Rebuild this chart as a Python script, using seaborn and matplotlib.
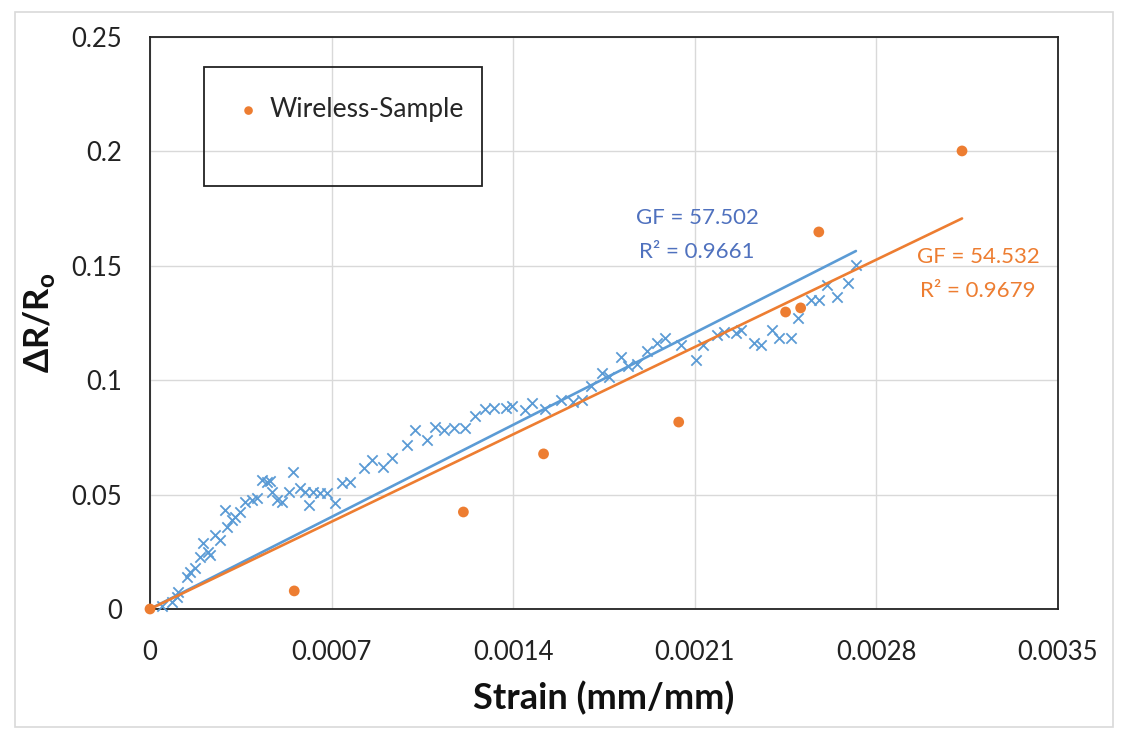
import numpy as np
import pandas as pd
import matplotlib
matplotlib.use("Agg")
import matplotlib.pyplot as plt
from matplotlib.patches import Rectangle
import seaborn as sns

# ---------------- data ----------------
blue_strain = [0.0000463, 0.0000837, 0.000103, 0.000109, 0.000142, 0.000154, 0.000174,
               0.000193, 0.000206, 0.000225, 0.000232, 0.000251, 0.000270, 0.000289,
               0.000296, 0.000315, 0.000328, 0.000347, 0.000367, 0.000392, 0.000412,
               0.000431, 0.000450, 0.000463, 0.000470, 0.000489, 0.000508, 0.000534,
               0.000553, 0.000579, 0.000611, 0.000598, 0.000630, 0.000656, 0.000682,
               0.000714, 0.000740, 0.000772, 0.000823, 0.000856, 0.000900, 0.000933,
               0.000991, 0.001023, 0.001068, 0.001100, 0.001132, 0.001170, 0.001216,
               0.001254, 0.001293, 0.001325, 0.001374, 0.001396, 0.001447, 0.001474,
               0.001524, 0.001586, 0.001629, 0.001666, 0.001698, 0.001744, 0.001771,
               0.001814, 0.001841, 0.001878, 0.001917, 0.001955, 0.001987, 0.002045,
               0.002103, 0.002130, 0.002184, 0.002212, 0.002258, 0.002277, 0.002328,
               0.002354, 0.002399, 0.002425, 0.002470, 0.002496, 0.002547, 0.002579,
               0.002611, 0.002650, 0.002689, 0.002721]
blue_dr = [0.0013, 0.0032, 0.0054, 0.0076, 0.0141, 0.0163, 0.0178,
           0.0229, 0.0287, 0.0250, 0.0236, 0.0323, 0.0302, 0.0433,
           0.0360, 0.0389, 0.0403, 0.0425, 0.0469, 0.0476, 0.0484,
           0.0564, 0.0556, 0.0560, 0.0513, 0.0476, 0.0469, 0.0513,
           0.0600, 0.0528, 0.0455, 0.0513, 0.0513, 0.0506, 0.0506,
           0.0462, 0.0549, 0.0556, 0.0615, 0.0651, 0.0622, 0.0659,
           0.0717, 0.0782, 0.0739, 0.0797, 0.0782, 0.0790, 0.0790,
           0.0844, 0.0874, 0.0877, 0.0877, 0.0887, 0.0868, 0.0899,
           0.0874, 0.0914, 0.0906, 0.0914, 0.0975, 0.1030, 0.1015,
           0.1103, 0.1062, 0.1071, 0.1128, 0.1161, 0.1183, 0.1154,
           0.1088, 0.1154, 0.1198, 0.1212, 0.1205, 0.1219, 0.1161,
           0.1154, 0.1219, 0.1183, 0.1183, 0.1271, 0.1351, 0.1351,
           0.1416, 0.1365, 0.1424, 0.1504]

wireless_strain = [0.0, 0.000556, 0.001208, 0.001517, 0.002038, 0.002450, 0.002508, 0.002578, 0.003130]
wireless_dr = [0.0, 0.0079, 0.0424, 0.0678, 0.0817, 0.1298, 0.1316, 0.1648, 0.2002]

gf_blue, r2_blue = 57.502, 0.9661
gf_orange, r2_orange = 54.532, 0.9679

x_ticks = [0, 0.0007, 0.0014, 0.0021, 0.0028, 0.0035]
x_tick_labels = ["0", "0.0007", "0.0014", "0.0021", "0.0028", "0.0035"]
y_ticks = [0, 0.05, 0.1, 0.15, 0.2, 0.25]
y_tick_labels = ["0", "0.05", "0.1", "0.15", "0.2", "0.25"]

legend_label = "Wireless-Sample"

# ---------------- style ----------------
sns.set_theme(style="white")
plt.rcParams["font.family"] = ["Lato", "DejaVu Sans"]

BLUE = "#5B9BD5"
BLUE_TXT = "#4F71BE"
ORANGE = "#ED7D31"

W, H = 1121, 733
fig = plt.figure(figsize=(W / 100, H / 100), dpi=100)
fig.patch.set_facecolor("white")
fig.patches.append(Rectangle((15 / W, 1 - 727 / H), (1113 - 15) / W, (727 - 12) / H,
                             transform=fig.transFigure, fill=False,
                             edgecolor="#d9d9d9", linewidth=1.2))

ax = fig.add_axes([150 / W, 1 - 609 / H, (1058 - 150) / W, (609 - 37) / H])

blue_df = pd.DataFrame({"strain": blue_strain, "dr": blue_dr})
wl_df = pd.DataFrame({"strain": wireless_strain, "dr": wireless_dr})

# trendlines (through origin, slope = GF)
bt = pd.DataFrame({"strain": [0.0, max(blue_strain)]})
bt["dr"] = gf_blue * bt["strain"]
ot = pd.DataFrame({"strain": [0.0, max(wireless_strain)]})
ot["dr"] = gf_orange * ot["strain"]

sns.scatterplot(data=blue_df, x="strain", y="dr", marker="x", color=BLUE, s=55,
                linewidth=1.3, ax=ax, zorder=3, legend=False, clip_on=False)
sns.lineplot(data=bt, x="strain", y="dr", color=BLUE, linewidth=1.9, ax=ax, zorder=4)
sns.lineplot(data=ot, x="strain", y="dr", color=ORANGE, linewidth=1.9, ax=ax, zorder=4)
sns.scatterplot(data=wl_df, x="strain", y="dr", color=ORANGE, s=60, edgecolor="none",
                ax=ax, zorder=5, label=legend_label, clip_on=False)

ax.set_xlim(0, 0.0035)
ax.set_ylim(0, 0.25)
ax.set_xticks(x_ticks)
ax.set_xticklabels(x_tick_labels)
ax.set_yticks(y_ticks)
ax.set_yticklabels(y_tick_labels)
ax.tick_params(axis="both", length=0, labelsize=18.5, colors="#222222")
ax.tick_params(axis="x", pad=22)
ax.tick_params(axis="y", pad=20)
ax.grid(True, color="#d9d9d9", linewidth=1.0)
ax.set_axisbelow(True)
for sp in ax.spines.values():
    sp.set_color("#222222")
    sp.set_linewidth(1.3)

ax.set_xlabel("Strain (mm/mm)", fontsize=26, fontweight="bold", color="#111111", labelpad=12)
ax.set_ylabel("ΔR/R$_\\mathregular{o}$", fontsize=25, fontweight="bold", color="#111111", labelpad=10)

# legend
leg = ax.legend(loc="center left", bbox_to_anchor=(0.094, 0.8724), frameon=False,
                fontsize=19, handletextpad=0.3, handlelength=1.0, borderpad=0,
                borderaxespad=0, markerscale=0.8)
ax.add_patch(Rectangle((0.0595, 0.7395), 0.3656 - 0.0595, 0.9476 - 0.7395,
                       transform=ax.transAxes, fill=False, edgecolor="#222222",
                       linewidth=1.3, zorder=6))

# trendline labels
ax.text(0.6024, 0.6540, f"GF = {gf_blue:.3f}\nR² = {r2_blue:.4f}", transform=ax.transAxes,
        ha="center", va="center", fontsize=16, color=BLUE_TXT, linespacing=1.85,
        multialignment="center")
ax.text(0.9119, 0.5857, f"GF = {gf_orange:.3f}\nR² = {r2_orange:.4f}", transform=ax.transAxes,
        ha="center", va="center", fontsize=16, color=ORANGE, linespacing=1.85,
        multialignment="center")

fig.savefig("out.png", dpi=100, facecolor="white")
